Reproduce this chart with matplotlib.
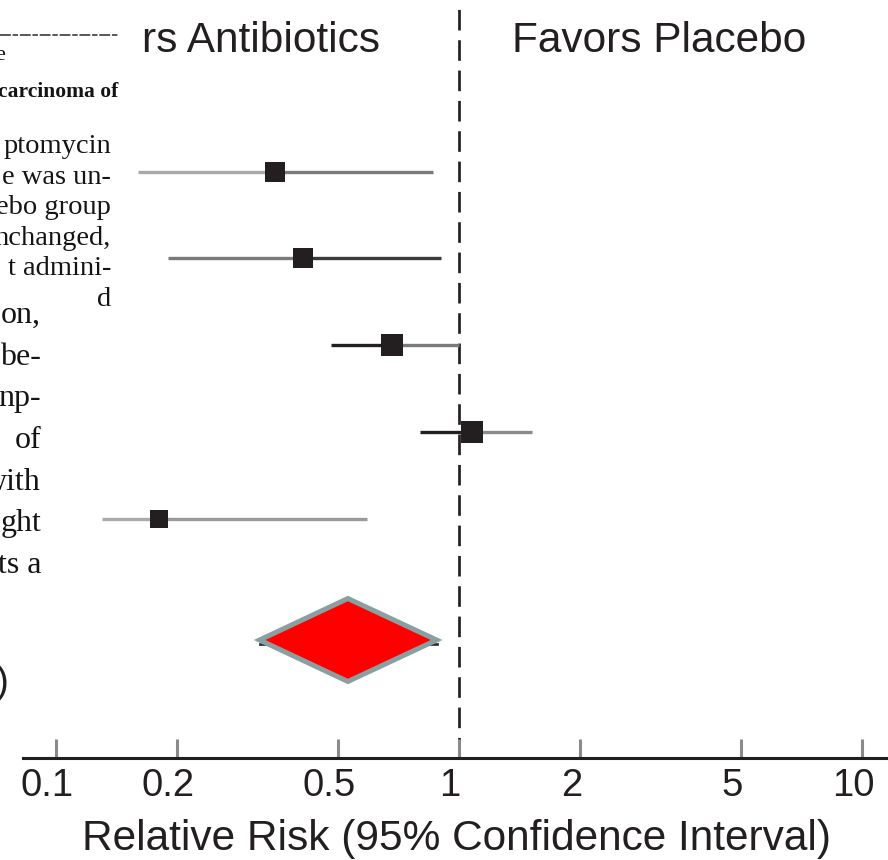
import matplotlib
matplotlib.use("Agg")
import matplotlib.pyplot as plt
import matplotlib.transforms as mtransforms
from matplotlib.lines import Line2D
import numpy as np

# ---- data: relative risk with 95% confidence interval per trial ----
rr_est = [0.35, 0.41, 0.68, 1.08, 0.18]
rr_low = [0.16, 0.19, 0.48, 0.80, 0.13]
rr_high = [0.86, 0.90, 1.00, 1.52, 0.59]

# pooled estimate
pooled_est = 0.53
pooled_low = 0.32
pooled_high = 0.88

tick_values = [0.1, 0.2, 0.5, 1, 2, 5, 10]
tick_labels = ["0.1", "0.2", "0.5", "1", "2", "5", "10"]

left_header = "rs Antibiotics"
right_header = "Favors Placebo"
x_title = "Relative Risk (95% Confidence Interval)"

# text column printed at the left side of the page
column_a = ["ptomycin", "e was un-", "ebo group", "nchanged,", "t admini-", "d"]
column_b = ["on,", "be-", "np-", "of", "with", "ght", "ts a"]

# ---- styling ----
INK = "#231f20"
W, H = 888, 860
sq_size_px = [20, 20, 23, 23, 18]
left_colors = ["#a8a8a8", "#7a7a7a", INK, INK, "#aaaaaa"]
right_colors = ["#7a7a7a", "#3a3a3a", "#7a7a7a", "#8a8a8a", "#9a9a9a"]

fig = plt.figure(figsize=(W / 100, H / 100), dpi=100)
fig.patch.set_facecolor("white")

# axes spans from the axis line (758 px from top) to the top edge
ax = fig.add_axes([23 / W, (H - 758) / H, (W - 23) / W, 758 / H])
ax.set_xscale("log")
ax.set_xlim(10 ** ((23 - 459) / 403), 10 ** ((888 - 459) / 403))
row_step = 86.75
ax.set_ylim((758 - 171.5) / row_step, -171.5 / row_step)
ax.set_facecolor("none")

rows = np.arange(len(rr_est))
for i in rows:
    ax.plot([rr_low[i], rr_est[i]], [i, i], color=left_colors[i], lw=2.4,
            solid_capstyle="butt", zorder=2)
    ax.plot([rr_est[i], rr_high[i]], [i, i], color=right_colors[i], lw=2.4,
            solid_capstyle="butt", zorder=2)
    ax.plot(rr_est[i], i, marker="s", color=INK, markersize=sq_size_px[i] * 0.72,
            markeredgewidth=0, zorder=3)

# pooled diamond
pooled_row = (640 - 171.5) / row_step
half_h = 41.5 / row_step
ax.plot([pooled_low, pooled_high], [pooled_row + 0.05, pooled_row + 0.05],
        color="#333333", lw=2, zorder=2)
ax.fill([pooled_low, pooled_est, pooled_high, pooled_est],
        [pooled_row, pooled_row - half_h, pooled_row, pooled_row + half_h],
        facecolor="#ff0000", edgecolor="#8aa0a0", linewidth=3.6,
        joinstyle="miter", zorder=4)

# line of no effect
ax.axvline(1, color=INK, lw=1.95, linestyle=(0, (7.6, 3.6)), zorder=1)

# axis styling
for s in ["top", "left", "right"]:
    ax.spines[s].set_visible(False)
ax.spines["bottom"].set_color(INK)
ax.spines["bottom"].set_linewidth(2.2)
ax.set_yticks([])
ax.set_xticks(tick_values)
ax.set_xticklabels(tick_labels)
ax.xaxis.set_minor_locator(matplotlib.ticker.NullLocator())
ax.tick_params(axis="x", direction="in", length=13.5, width=2.2,
               color="#8a8a8a", pad=7, labelsize=27.5, labelcolor=INK)
for lab in ax.get_xticklabels():
    lab.set_fontfamily("Liberation Sans")
    lab.set_transform(lab.get_transform() +
                      mtransforms.ScaledTranslation(-9 / 100, 0, fig.dpi_scale_trans))

sans = "Liberation Sans"
serif = "Liberation Serif"

fig.text(142 / W, 1 - 41 / H, left_header, fontsize=30.5, family=sans,
         color=INK, ha="left", va="center")
fig.text(512 / W, 1 - 41 / H, right_header, fontsize=30.5, family=sans,
         color=INK, ha="left", va="center")
fig.text(456 / W, 1 - 839 / H, x_title, fontsize=30.5, family=sans,
         color=INK, ha="center", va="center")
fig.text(9 / W, 1 - 683 / H, ")", fontsize=28, family=sans,
         color=INK, ha="right", va="center")

# printed text column
fig.add_artist(Line2D([0, 118 / W], [1 - 35 / H, 1 - 35 / H], color="#4a4a4a",
                      lw=1.3, linestyle=(0, (6, 1, 3, 1))))
fig.text(5 / W, 1 - 60 / H, "e", fontsize=16, family=serif, color="#141414",
         ha="right", va="baseline")
fig.text(118 / W, 1 - 97 / H, "carcinoma of", fontsize=15.5, family=serif,
         color="#141414", ha="right", va="baseline", fontweight="bold")
for k, line in enumerate(column_a):
    fig.text(111 / W, 1 - (153 + 30.6 * k) / H, line, fontsize=20.5,
             family=serif, color="#141414", ha="right", va="baseline")
for k, line in enumerate(column_b):
    fig.text(41 / W, 1 - (323 + 41.7 * k) / H, line, fontsize=23,
             family=serif, color="#141414", ha="right", va="baseline")

fig.savefig("out.png", dpi=100, facecolor="white")
